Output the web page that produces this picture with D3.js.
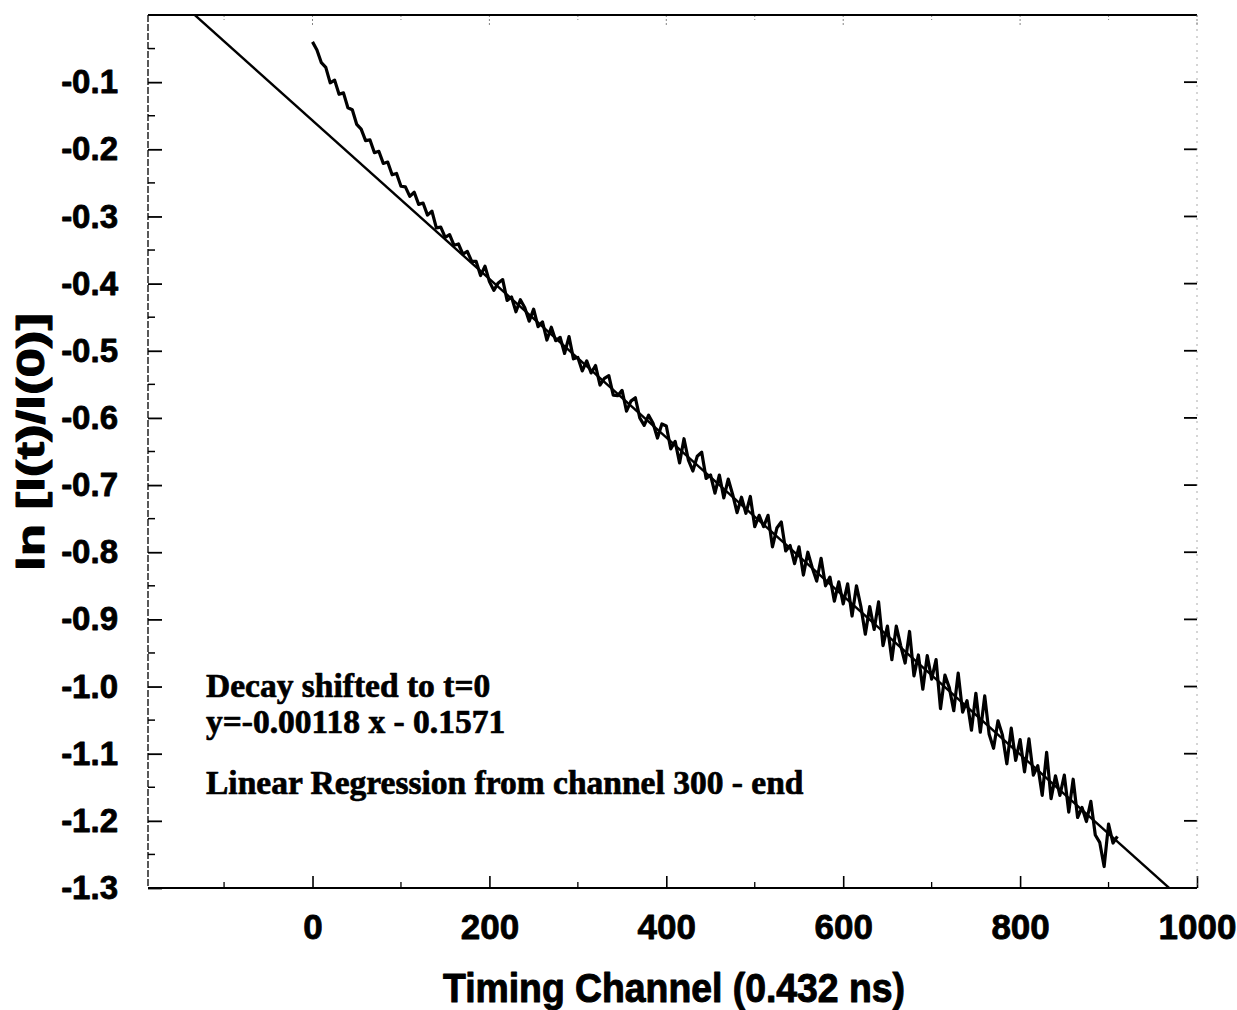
<!DOCTYPE html>
<html>
<head>
<meta charset="utf-8">
<script src="https://cdnjs.cloudflare.com/ajax/libs/d3/7.8.5/d3.min.js"></script>
<style>
  html, body { margin: 0; padding: 0; background: #fff; }
  svg { display: block; }
</style>
</head>
<body>
<svg id="chart" width="1237" height="1010"></svg>
<script>
// Fluorescence decay, ln[I(t)/I(0)] vs timing channel, sampled every 5 channels from 0.
const channelStep = 5;
const lnRatio = [
  -0.040, -0.052, -0.071, -0.078, -0.101, -0.097, -0.118, -0.116, -0.138, -0.141,
  -0.163, -0.170, -0.187, -0.186, -0.205, -0.203, -0.221, -0.219, -0.238, -0.236,
  -0.255, -0.256, -0.270, -0.264, -0.282, -0.280, -0.298, -0.292, -0.317, -0.316,
  -0.331, -0.327, -0.343, -0.341, -0.356, -0.352, -0.367,
  -0.367, -0.388, -0.374, -0.397, -0.410, -0.399, -0.394, -0.425, -0.420, -0.442,
  -0.424, -0.436, -0.456, -0.438, -0.464, -0.457, -0.484, -0.465, -0.485, -0.480,
  -0.504, -0.479, -0.512, -0.510, -0.530, -0.515, -0.533, -0.522, -0.551, -0.541,
  -0.537, -0.566, -0.567, -0.559, -0.590, -0.575, -0.570, -0.600, -0.611, -0.596,
  -0.608, -0.630, -0.609,
  -0.612, -0.646, -0.635, -0.667, -0.631, -0.663, -0.679, -0.657, -0.651, -0.690,
  -0.685, -0.712, -0.685, -0.719, -0.691, -0.714, -0.741, -0.718, -0.742, -0.717,
  -0.762, -0.745, -0.762, -0.745, -0.792, -0.764, -0.755, -0.798, -0.790, -0.817,
  -0.792, -0.834, -0.800, -0.823, -0.843, -0.809, -0.850, -0.837, -0.873, -0.844,
  -0.877, -0.847, -0.895, -0.850, -0.881, -0.922, -0.881, -0.915, -0.874, -0.939,
  -0.910, -0.960, -0.910, -0.939, -0.965, -0.918, -0.984, -0.953, -1.004, -0.954,
  -0.989, -0.960, -1.033, -0.983, -1.002, -1.036, -0.980, -1.038, -1.021, -1.065,
  -1.010, -1.068, -1.014, -1.071, -1.092, -1.051, -1.072, -1.115, -1.062, -1.110,
  -1.079, -1.127, -1.078, -1.132, -1.118, -1.162, -1.098, -1.167, -1.133, -1.162,
  -1.132, -1.187, -1.138, -1.195, -1.180, -1.201, -1.171, -1.221, -1.232, -1.268,
  -1.205, -1.233, -1.223
];

// Linear regression (channel 300 - end): y = slope * x + intercept
const fitSlope = -0.00118;
const fitIntercept = -0.1571;

const xDomain = [-186, 1000];
const yDomain = [-1.3, 0];
const xMajorTicks = [0, 200, 400, 600, 800, 1000];
const xMinorTicks = [-100, 100, 300, 500, 700, 900];
const yMajorTicks = [-0.1, -0.2, -0.3, -0.4, -0.5, -0.6, -0.7, -0.8, -0.9, -1.0, -1.1, -1.2, -1.3];
const yMinorTicks = [-0.05, -0.15, -0.25, -0.35, -0.45, -0.55, -0.65, -0.75, -0.85, -0.95, -1.05, -1.15, -1.25];

const xTitle = "Timing Channel (0.432 ns)";
const yTitle = "ln [I(t)/I(0)]";
const notes = [
  "Decay shifted to t=0",
  "y=-0.00118 x - 0.1571",
  "Linear Regression from channel 300 - end"
];

const plot = { left: 148, right: 1197, top: 15, bottom: 888 };

const svg = d3.select("#chart");
const x = d3.scaleLinear().domain(xDomain).range([plot.left, plot.right]);
const y = d3.scaleLinear().domain(yDomain).range([plot.bottom, plot.top]);

svg.append("defs").append("clipPath").attr("id", "plot-clip")
  .append("rect")
  .attr("x", plot.left).attr("y", plot.top)
  .attr("width", plot.right - plot.left).attr("height", plot.bottom - plot.top);

const sansBold = "'Liberation Sans', Arial, sans-serif";
const serifBold = "'Liberation Serif', 'Times New Roman', serif";

// heavy text: bold face plus a thin outline
function heavy(sel, stroke) {
  sel.attr("fill", "#000").attr("stroke", "#000").attr("stroke-width", stroke)
    .attr("stroke-linejoin", "round");
}

// ---- axes ----
// bottom: labels + inward ticks
const xAxis = svg.append("g")
  .attr("transform", `translate(0,${plot.bottom})`)
  .call(d3.axisBottom(x).tickValues(xMajorTicks).tickSizeInner(-12).tickSizeOuter(0)
    .tickPadding(26).tickFormat(d3.format("d")));
xAxis.select(".domain").remove();
xAxis.selectAll(".tick line").attr("stroke", "#000").attr("stroke-width", 1.6);
xAxis.selectAll(".tick text")
  .attr("font-family", sansBold).attr("font-weight", "bold").attr("font-size", 35)
  .call(heavy, 0.8);

svg.append("g").selectAll("line").data(xMinorTicks).join("line")
  .attr("x1", d => x(d)).attr("x2", d => x(d))
  .attr("y1", plot.bottom).attr("y2", plot.bottom - 6)
  .attr("stroke", "#000").attr("stroke-width", 1.3);

// top: faint ticks
svg.append("g").selectAll("line").data(xMajorTicks.concat(xMinorTicks)).join("line")
  .attr("x1", d => x(d)).attr("x2", d => x(d))
  .attr("y1", plot.top).attr("y2", d => plot.top + (xMajorTicks.includes(d) ? 10 : 5))
  .attr("stroke", "#666").attr("stroke-width", 0.8).attr("stroke-dasharray", "2,2");

// left: labels + inward ticks
const yAxis = svg.append("g")
  .attr("transform", `translate(${plot.left},0)`)
  .call(d3.axisLeft(y).tickValues(yMajorTicks).tickSizeInner(-14).tickSizeOuter(0)
    .tickPadding(30).tickFormat(d => d.toFixed(1)));
yAxis.select(".domain").remove();
yAxis.selectAll(".tick line").attr("stroke", "#000").attr("stroke-width", 1.8);
yAxis.selectAll(".tick text")
  .attr("font-family", sansBold).attr("font-weight", "bold").attr("font-size", 33)
  .call(heavy, 0.8);

svg.append("g").selectAll("line").data(yMinorTicks).join("line")
  .attr("x1", plot.left).attr("x2", plot.left + 7)
  .attr("y1", d => y(d)).attr("y2", d => y(d))
  .attr("stroke", "#000").attr("stroke-width", 1.5);

// right: inward ticks
svg.append("g").selectAll("line").data(yMajorTicks.slice(0, -1)).join("line")
  .attr("x1", plot.right - 13).attr("x2", plot.right)
  .attr("y1", d => y(d)).attr("y2", d => y(d))
  .attr("stroke", "#000").attr("stroke-width", 1.8);

// frame
svg.append("line")
  .attr("x1", plot.left).attr("x2", plot.right).attr("y1", plot.top).attr("y2", plot.top)
  .attr("stroke", "#000").attr("stroke-width", 2);
svg.append("line")
  .attr("x1", plot.left).attr("x2", plot.right).attr("y1", plot.bottom).attr("y2", plot.bottom)
  .attr("stroke", "#000").attr("stroke-width", 2);
svg.append("line")
  .attr("x1", plot.left).attr("x2", plot.left).attr("y1", plot.top).attr("y2", plot.bottom)
  .attr("stroke", "#000").attr("stroke-width", 1.3).attr("stroke-dasharray", "7,2");
svg.append("line")
  .attr("x1", plot.right).attr("x2", plot.right).attr("y1", plot.top).attr("y2", plot.bottom)
  .attr("stroke", "#888").attr("stroke-width", 0.7).attr("stroke-dasharray", "2,5");

// ---- marks ----
const g = svg.append("g").attr("clip-path", "url(#plot-clip)");

g.append("line")
  .attr("x1", x(xDomain[0])).attr("y1", y(fitSlope * xDomain[0] + fitIntercept))
  .attr("x2", x(xDomain[1])).attr("y2", y(fitSlope * xDomain[1] + fitIntercept))
  .attr("stroke", "#000").attr("stroke-width", 2.4);

const decay = d3.line()
  .x((d, i) => x(i * channelStep))
  .y(d => y(d));
g.append("path")
  .datum(lnRatio)
  .attr("d", decay)
  .attr("fill", "none")
  .attr("stroke", "#000")
  .attr("stroke-width", 3.2)
  .attr("stroke-linejoin", "round");

// ---- annotations ----
const noteY = [697, 733, 794];
svg.append("g").selectAll("text").data(notes).join("text")
  .attr("x", 206).attr("y", (d, i) => noteY[i])
  .attr("font-family", serifBold).attr("font-weight", "bold").attr("font-size", 33.5)
  .call(heavy, 0.7)
  .text(d => d);

// ---- titles ----
svg.append("text")
  .attr("x", (443 + 905) / 2).attr("y", 1002)
  .attr("text-anchor", "middle")
  .attr("font-family", sansBold).attr("font-weight", "bold").attr("font-size", 40)
  .attr("textLength", 462).attr("lengthAdjust", "spacingAndGlyphs")
  .call(heavy, 1)
  .text(xTitle);

svg.append("text")
  .attr("transform", `translate(44,${(312 + 572) / 2}) rotate(-90)`)
  .attr("text-anchor", "middle")
  .attr("font-family", sansBold).attr("font-weight", "bold").attr("font-size", 38)
  .attr("textLength", 258).attr("lengthAdjust", "spacingAndGlyphs")
  .call(heavy, 1)
  .text(yTitle);
</script>
</body>
</html>
